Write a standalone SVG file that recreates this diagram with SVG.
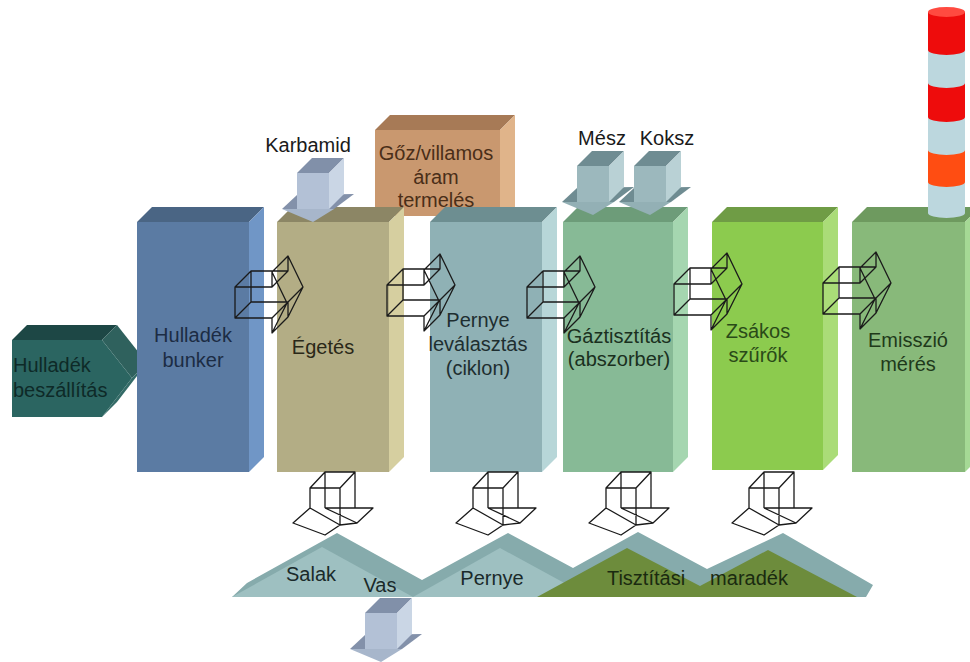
<svg xmlns="http://www.w3.org/2000/svg" xmlns:xlink="http://www.w3.org/1999/xlink" width="970" height="662" viewBox="0 0 970 662">
<style>
text{font-family:"Liberation Sans",Arial,sans-serif;font-size:20px;text-anchor:middle}
.wire{fill:none;stroke:#1a1a1a;stroke-width:1.3;stroke-linejoin:round}
</style>
<defs>
<path id="wr" d="M0,0 L37,0 L37,-15 L52,16 L37,46 L37,31 L0,31 Z M16,-16 L53,-16 L53,-31 L68,0 L53,30 L53,15 L16,15 Z M0,0 L16,-16 M37,0 L53,-16 M37,-15 L53,-31 M52,16 L68,0 M37,46 L53,30 M37,31 L53,15 M0,31 L16,15"/>
<path id="wd" d="M0,0 L30,0 L45,-16 L15,-16 Z M0,0 L0,20 M30,0 L30,37 M45,-16 L45,20 M15,-16 L15,20 M0,20 L-17,35 L15,47 L30,37 M0,20 L30,37 M15,20 L47,35 M45,20 L63,20 L47,35 L30,37 M15,20 L45,20"/>
</defs>
<rect width="970" height="662" fill="#ffffff"/>

<g id="goz">
<polygon points="375,130 390,115 515,115 500,130" fill="#a77a56"/>
<polygon points="500,130 515,115 515,207 500,216" fill="#e0b48a"/>
<rect x="375" y="130" width="125" height="86" fill="#c9986f"/>
<text x="436" y="160" fill="#4a2e18">Gőz/villamos</text>
<text x="436" y="184" fill="#4a2e18">áram</text>
<text x="436" y="207" fill="#4a2e18">termelés</text>
</g>

<g id="beszallitas">
<polygon points="12,340 27,325 117,325 102,340" fill="#1d4745"/>
<polygon points="102,340 117,325 147,363 132,378" fill="#2f615d"/>
<polygon points="132,378 147,363 117,402 102,417" fill="#346b67"/>
<polygon points="12,340 102,340 132,378 102,417 12,417" fill="#2b6561"/>
<text x="13" y="372" fill="#0e2a28" style="text-anchor:start">Hulladék</text>
<text x="13" y="397" fill="#0e2a28" style="text-anchor:start">beszállítás</text>
</g>

<g id="bunker">
<polygon points="137,222 152,207 264,207 249,222" fill="#4a6584"/>
<polygon points="249,222 264,207 264,457 249,472" fill="#7096c6"/>
<rect x="137" y="222" width="112" height="250" fill="#5b7ba3"/>
<text x="193" y="342" fill="#1c2c44">Hulladék</text>
<text x="193" y="367" fill="#1c2c44">bunker</text>
</g>

<g id="egetes">
<polygon points="277,222 292,207 404,207 389,222" fill="#8c8665"/>
<polygon points="389,222 404,207 404,457 389,472" fill="#d6cfa0"/>
<rect x="277" y="222" width="112" height="250" fill="#b3ad85"/>
<text x="323" y="354" fill="#2a2818">Égetés</text>
</g>

<g id="pernye">
<polygon points="430,222 445,207 557,207 542,222" fill="#6d8e91"/>
<polygon points="542,222 557,207 557,457 542,472" fill="#b7d6d8"/>
<rect x="430" y="222" width="112" height="250" fill="#8fb1b5"/>
<text x="478" y="327" fill="#1e2e30">Pernye</text>
<text x="478" y="351" fill="#1e2e30">leválasztás</text>
<text x="478" y="375" fill="#1e2e30">(ciklon)</text>
</g>

<g id="gaz">
<polygon points="563,222 578,207 688,207 673,222" fill="#6d9c79"/>
<polygon points="673,222 688,207 688,457 673,472" fill="#a5d6b0"/>
<rect x="563" y="222" width="110" height="250" fill="#87ba96"/>
<text x="619" y="343" fill="#1a3020">Gáztisztítás</text>
<text x="619" y="366" fill="#1a3020">(abszorber)</text>
</g>

<g id="zsakos">
<polygon points="712,222 727,207 838,207 823,222" fill="#6f9c45"/>
<polygon points="823,222 838,207 838,455 823,470" fill="#aadc78"/>
<rect x="712" y="222" width="111" height="248" fill="#8ccb4e"/>
<text x="758" y="338" fill="#2a4a18">Zsákos</text>
<text x="758" y="362" fill="#2a4a18">szűrők</text>
</g>

<g id="emisszio">
<polygon points="852,222 867,207 980,207 965,222" fill="#6e9a5f"/>
<polygon points="965,222 980,207 980,457 965,472" fill="#a5d995"/>
<rect x="852" y="222" width="113" height="250" fill="#88b97a"/>
<text x="908" y="347" fill="#1f3a1a">Emisszió</text>
<text x="908" y="371" fill="#1f3a1a">mérés</text>
</g>

<g id="kemeny">
<path d="M928,182 L928,213 A18.5,5 0 0 0 965,213 L965,182 Z" fill="#bcd7de"/>
<path d="M928,150 L928,182 A18.5,5 0 0 0 965,182 L965,150 Z" fill="#ff4d12"/>
<path d="M928,117 L928,150 A18.5,5 0 0 0 965,150 L965,117 Z" fill="#bcd7de"/>
<path d="M928,83 L928,117 A18.5,5 0 0 0 965,117 L965,83 Z" fill="#ee0c0c"/>
<path d="M928,50 L928,83 A18.5,5 0 0 0 965,83 L965,50 Z" fill="#bcd7de"/>
<path d="M928,12 L928,50 A18.5,5 0 0 0 965,50 L965,12 Z" fill="#ee0c0c"/>
<ellipse cx="946.5" cy="12" rx="18.5" ry="5" fill="#ff4a40"/>
</g>

<g id="karbamid">
<g transform="translate(297,173)">
<polygon points="-15,36 0,22 57,21 37,36" fill="#8391aa"/>
<polygon points="0,0 15,-15 47,-15 32,0" fill="#8190a9"/>
<polygon points="32,0 47,-15 47,21 32,36" fill="#cad6e5"/>
<rect x="0" y="0" width="32" height="36" fill="#b3c1d6"/>
<polygon points="-15,36 37,36 16,49" fill="#a7b6cb"/>
</g>
<text x="308" y="152" fill="#1a1a1a">Karbamid</text>
</g>

<g id="mesz">
<g transform="translate(577,166)">
<polygon points="-15,36 0,22 57,21 37,36" fill="#6f8c92"/>
<polygon points="0,0 15,-15 47,-15 32,0" fill="#6f8c92"/>
<polygon points="32,0 47,-15 47,21 32,36" fill="#b9d1d5"/>
<rect x="0" y="0" width="32" height="36" fill="#9cb8bd"/>
<polygon points="-15,36 37,36 16,49" fill="#93b0b5"/>
</g>
<text x="602" y="145" fill="#1a1a1a">Mész</text>
</g>

<g id="koksz">
<g transform="translate(634,166)">
<polygon points="-15,36 0,22 57,21 37,36" fill="#6f8c92"/>
<polygon points="0,0 15,-15 47,-15 32,0" fill="#6f8c92"/>
<polygon points="32,0 47,-15 47,21 32,36" fill="#b9d1d5"/>
<rect x="0" y="0" width="32" height="36" fill="#9cb8bd"/>
<polygon points="-15,36 37,36 16,49" fill="#93b0b5"/>
</g>
<text x="667" y="145" fill="#1a1a1a">Koksz</text>
</g>

<g id="halmok">
<polygon points="232,597 247,583 337,533 422,580 508,533 573,568 638,532 707,569 783,533 873,585 866,597" fill="#86abac"/>
<polygon points="232,597 322,547 413,597" fill="#9ec0c1"/>
<polygon points="413,597 500,548 590,597" fill="#9ec0c1"/>
<polygon points="537,597 627,548 700,586 768,550 857,597" fill="#6d8c3c"/>
</g>

<g id="salak"><text x="311" y="581" fill="#1a2a2a">Salak</text></g>
<g id="pernye-maradek"><text x="492" y="585" fill="#1a2a2a">Pernye</text></g>
<g id="tisztitasi"><text x="646" y="585" fill="#1a2a10">Tisztítási</text></g>
<g id="maradek"><text x="749" y="585" fill="#1a2a10">maradék</text></g>

<g id="vas">
<g transform="translate(365,613)">
<polygon points="-15,36 0,22 57,21 37,36" fill="#8391aa"/>
<polygon points="0,0 15,-15 47,-15 32,0" fill="#8190a9"/>
<polygon points="32,0 47,-15 47,21 32,36" fill="#cad6e5"/>
<rect x="0" y="0" width="32" height="36" fill="#b3c1d6"/>
<polygon points="-15,36 37,36 16,49" fill="#a7b6cb"/>
</g>
<text x="380" y="592" fill="#1a2a2a">Vas</text>
</g>

<g id="connectors">
<use xlink:href="#wr" href="#wr" class="wire" transform="translate(235,287)"/>
<use xlink:href="#wr" href="#wr" class="wire" transform="translate(387,285)"/>
<use xlink:href="#wr" href="#wr" class="wire" transform="translate(527,287)"/>
<use xlink:href="#wr" href="#wr" class="wire" transform="translate(674,284)"/>
<use xlink:href="#wr" href="#wr" class="wire" transform="translate(823,283)"/>
<use xlink:href="#wd" href="#wd" class="wire" transform="translate(310,488)"/>
<use xlink:href="#wd" href="#wd" class="wire" transform="translate(473,488)"/>
<use xlink:href="#wd" href="#wd" class="wire" transform="translate(606,488)"/>
<use xlink:href="#wd" href="#wd" class="wire" transform="translate(749,488)"/>
</g>
</svg>
